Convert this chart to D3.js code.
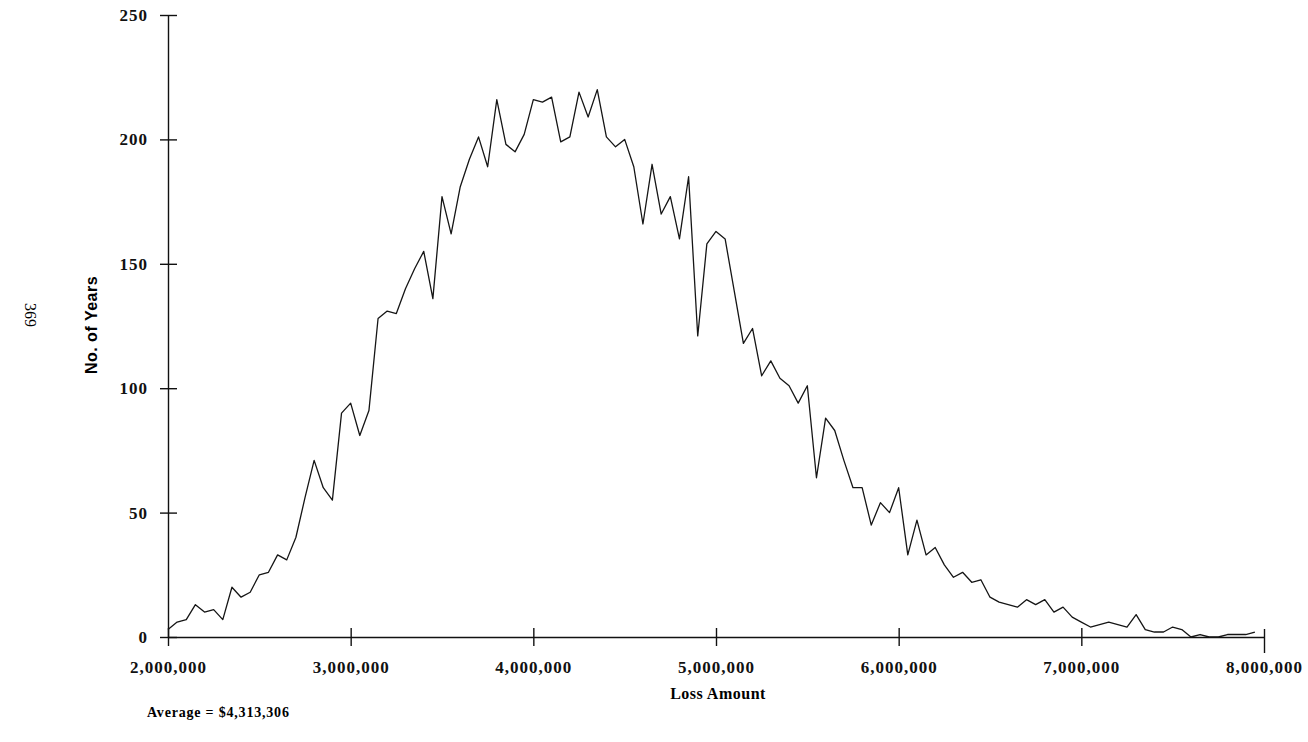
<!DOCTYPE html>
<html>
<head>
<meta charset="utf-8">
<script src="https://cdn.jsdelivr.net/npm/d3@7"></script>
<style>
    body { margin: 0; background: #fff; }
    .axis path, .axis line { stroke: #111; stroke-width: 1.4; }
    .axis text { font-family: 'Liberation Serif', 'Times New Roman', serif; font-weight: bold; fill: #111; }
</style>
</head>
<body>
<div id="chart"></div>
<script>

// loss amount bins (in thousands of $)
const lossAmounts = [
    2000, 2050, 2100, 2150, 2200, 2250, 2300, 2350, 2400, 2450,
    2500, 2550, 2600, 2650, 2700, 2750, 2800, 2850, 2900, 2950,
    3000, 3050, 3100, 3150, 3200, 3250, 3300, 3350, 3400, 3450,
    3500, 3550, 3600, 3650, 3700, 3750, 3800, 3850, 3900, 3950,
    4000, 4050, 4100, 4150, 4200, 4250, 4300, 4350, 4400, 4450,
    4500, 4550, 4600, 4650, 4700, 4750, 4800, 4850, 4900, 4950,
    5000, 5050, 5100, 5150, 5200, 5250, 5300, 5350, 5400, 5450,
    5500, 5550, 5600, 5650, 5700, 5750, 5800, 5850, 5900, 5950,
    6000, 6050, 6100, 6150, 6200, 6250, 6300, 6350, 6400, 6450,
    6500, 6550, 6600, 6650, 6700, 6750, 6800, 6850, 6900, 6950,
    7000, 7050, 7100, 7150, 7200, 7250, 7300, 7350, 7400, 7450,
    7500, 7550, 7600, 7650, 7700, 7750, 7800, 7850, 7900, 7950
];

// number of years in each bin
const yearCounts = [
    3, 6, 7, 13, 10, 11, 7, 20, 16, 18,
    25, 26, 33, 31, 40, 56, 71, 60, 55, 90,
    94, 81, 91, 128, 131, 130, 140, 148, 155, 136,
    177, 162, 181, 192, 201, 189, 216, 198, 195, 202,
    216, 215, 217, 199, 201, 219, 209, 220, 201, 197,
    200, 189, 166, 190, 170, 177, 160, 185, 121, 158,
    163, 160, 139, 118, 124, 105, 111, 104, 101, 94,
    101, 64, 88, 83, 71, 60, 60, 45, 54, 50,
    60, 33, 47, 33, 36, 29, 24, 26, 22, 23,
    16, 14, 13, 12, 15, 13, 15, 10, 12, 8,
    6, 4, 5, 6, 5, 4, 9, 3, 2, 2,
    4, 3, 0, 1, 0, 0, 1, 1, 1, 2
];

const xTicks = [2000, 3000, 4000, 5000, 6000, 7000, 8000];
const yTicks = [0, 50, 100, 150, 200, 250];

const data = lossAmounts.map((d, i) => ({loss: d, years: yearCounts[i]}));

showLineChart(data);

function showLineChart(data) {
    const width = 1308,
        height = 742;

    const svg = d3.select('#chart').append('svg')
        .attr('width', width)
        .attr('height', height);

    const xScale = d3.scaleLinear()
        .domain([2000, 8000])
        .range([168, 1264]);

    const yScale = d3.scaleLinear()
        .domain([0, 250])
        .range([637, 15]);

    const fmt = d3.format(',');

    const xAxis = d3.axisBottom(xScale)
        .tickValues(xTicks)
        .tickFormat(d => fmt(d * 1000))
        .tickSizeInner(9)
        .tickSizeOuter(0)
        .tickPadding(15);

    const yAxis = d3.axisLeft(yScale)
        .tickValues(yTicks)
        .tickSizeInner(8)
        .tickSizeOuter(0)
        .tickPadding(12);

    const xAxisGroup = svg.append('g')
        .attr('class', 'axis x-axis')
        .attr('transform', `translate(0, ${yScale(0)})`)
        .call(xAxis);

    // ticks cross the axis line
    xAxisGroup.selectAll('.tick line').attr('y1', -9);
    xAxisGroup.selectAll('.tick:last-of-type line').attr('y1', -8).attr('y2', 16);
    xAxisGroup.selectAll('text')
        .style('font-size', '17px')
        .style('letter-spacing', '1px');

    const yAxisGroup = svg.append('g')
        .attr('class', 'axis y-axis')
        .attr('transform', `translate(${xScale(2000)}, 0)`)
        .call(yAxis);

    yAxisGroup.selectAll('.tick line').attr('x1', 9);
    yAxisGroup.selectAll('text')
        .style('font-size', '17px')
        .style('letter-spacing', '1px');

    const line = d3.line()
        .x(d => xScale(d.loss))
        .y(d => yScale(d.years));

    svg.append('path')
        .datum(data)
        .attr('fill', 'none')
        .attr('stroke', '#151515')
        .attr('stroke-width', 1.3)
        .attr('stroke-linejoin', 'round')
        .attr('d', line);

    // axis titles
    svg.append('text')
        .attr('x', 718)
        .attr('y', 699)
        .attr('text-anchor', 'middle')
        .style('font-family', "'Liberation Serif', serif")
        .style('font-weight', 'bold')
        .style('font-size', '16px')
        .style('letter-spacing', '0.5px')
        .text('Loss Amount');

    svg.append('text')
        .attr('transform', 'translate(97, 325) rotate(-90)')
        .attr('text-anchor', 'middle')
        .style('font-family', "'Liberation Sans', Arial, sans-serif")
        .style('font-weight', 'bold')
        .style('font-size', '16px')
        .style('letter-spacing', '0.5px')
        .text('No. of Years');

    svg.append('text')
        .attr('x', 147)
        .attr('y', 717)
        .style('font-family', "'Liberation Serif', serif")
        .style('font-weight', 'bold')
        .style('font-size', '14px')
        .style('letter-spacing', '0.8px')
        .text('Average = $4,313,306');

    // page number from the scanned page
    svg.append('text')
        .attr('transform', 'translate(25, 315) rotate(90)')
        .attr('text-anchor', 'middle')
        .style('font-family', "'Liberation Serif', serif")
        .style('font-size', '16px')
        .text('369');
}
</script>
</body>
</html>
